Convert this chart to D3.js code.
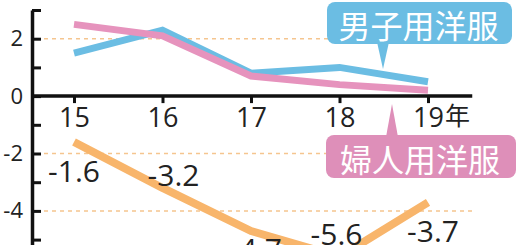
<!DOCTYPE html>
<html>
<head>
<meta charset="utf-8">
<script src="https://cdn.jsdelivr.net/npm/d3@7"></script>
<style>
  html, body { margin:0; padding:0; background:#fff; }
  svg { display:block; font-family:"Open Sans", "Noto Sans", sans-serif; }
</style>
</head>
<body>
<svg id="chart"></svg>
<script>
// data
var years = [15, 16, 17, 18, 19];
var menValues = [1.5, 2.3, 0.8, 1.0, 0.5];      // 男子用洋服
var womenValues = [2.5, 2.1, 0.7, 0.4, 0.2];    // 婦人用洋服
var totalValues = [-1.6, -3.2, -4.7, -5.6, -3.7];
var totalLabels = ["-1.6", "-3.2", "-4.7", "-5.6", "-3.7"];
var yTicks = [3, 2, 1, 0, -1, -2, -3, -4, -5];
var yTickLabels = [2, 0, -2, -4];
var gridValues = [2, -2, -4];
var seriesNames = ["男子用洋服", "婦人用洋服"];
var yearUnit = "年";

var screen = {width:520, height:245};
var colors = {men:"#6bbde3", women:"#e693bd", total:"#f8b56b",
              menBox:"#6bbde3", womenBox:"#de8fb9", grid:"#f5c58f"};
var jpFont = "'Noto Sans CJK JP', 'Noto Sans', sans-serif";

var svg = d3.select("#chart")
    .attr("width", screen.width)
    .attr("height", screen.height);

var axisX = 32;   // where the vertical axis sits

var xScale = d3.scaleLinear()
    .domain([15, 19])
    .range([74, 428]);

var yScale = d3.scaleLinear()
    .domain([3, -5.5])
    .range([10, 10 + 8.5 * 28.7]);

// dashed guide lines
svg.append("g")
    .selectAll("line")
    .data(gridValues)
    .enter()
    .append("line")
    .attr("x1", axisX + 12)
    .attr("x2", xScale(19.5))
    .attr("y1", function(d){ return yScale(d); })
    .attr("y2", function(d){ return yScale(d); })
    .attr("stroke", colors.grid)
    .attr("stroke-width", 1.5)
    .attr("stroke-dasharray", "4,4");

// y axis (ticks point inward)
var yAxis = d3.axisLeft(yScale)
    .tickValues(yTicks)
    .tickSize(-9)
    .tickSizeOuter(0)
    .tickPadding(9)
    .tickFormat(function(d){ return yTickLabels.indexOf(d) >= 0 ? String(d) : ""; });

var yg = svg.append("g")
    .attr("transform", "translate(" + axisX + ",0)")
    .call(yAxis);
yg.select(".domain").attr("stroke", "#111").attr("stroke-width", 3.5);
yg.selectAll(".tick line").attr("stroke", "#111").attr("stroke-width", 3);
yg.selectAll(".tick text")
    .attr("fill", "#222")
    .style("font-size", "22px")
    .style("font-family", "'Open Sans', sans-serif");

// x axis at zero
var xAxis = d3.axisBottom(xScale)
    .tickValues(years)
    .tickSize(7)
    .tickSizeOuter(0)
    .tickPadding(5)
    .tickFormat(d3.format("d"));

var xg = svg.append("g")
    .attr("transform", "translate(0," + yScale(0) + ")")
    .call(xAxis);
xg.select(".domain").remove();
xg.append("line")
    .attr("x1", axisX)
    .attr("x2", xScale(19.5))
    .attr("stroke", "#111")
    .attr("stroke-width", 3.5);
xg.selectAll(".tick line").attr("stroke", "#111").attr("stroke-width", 3);
xg.selectAll(".tick text")
    .attr("fill", "#222")
    .style("font-size", "27px")
    .style("font-family", "'Open Sans', sans-serif");

svg.append("text")
    .attr("x", xScale(19) + 17)
    .attr("y", yScale(0) + 29)
    .attr("fill", "#222")
    .style("font-size", "25px")
    .style("font-family", jpFont)
    .text(yearUnit);

// lines
var drawLine = function(values, color, width, join)
{
    var line = d3.line()
        .x(function(d, i){ return xScale(years[i]); })
        .y(function(d){ return yScale(d); });
    svg.append("path")
        .datum(values)
        .attr("d", line)
        .attr("fill", "none")
        .attr("stroke", color)
        .attr("stroke-width", width)
        .attr("stroke-linejoin", join);
}

drawLine(totalValues, colors.total, 8, "round");
drawLine(menValues, colors.men, 7, "miter");
drawLine(womenValues, colors.women, 7, "miter");

// value labels on the orange line
var labelShift = [[0, 40], [11, -2], [5, 29], [-3, -12], [5, 40]];
svg.append("g")
    .selectAll("text")
    .data(totalValues)
    .enter()
    .append("text")
    .attr("x", function(d, i){ return xScale(years[i]) + labelShift[i][0]; })
    .attr("y", function(d, i){ return yScale(d) + labelShift[i][1]; })
    .attr("text-anchor", "middle")
    .attr("fill", "#222")
    .style("font-size", "30px")
    .text(function(d, i){ return totalLabels[i]; });

// callout boxes
var callout = function(name, fill, box, tipX, tipY)
{
    var g = svg.append("g");
    var baseY = tipY < box.y ? box.y + 2 : box.y + box.h - 2;
    g.append("path")
        .attr("d", "M" + (tipX - 6) + "," + baseY + "L" + tipX + "," + tipY +
                   "L" + (tipX + 6) + "," + baseY + "Z")
        .attr("fill", fill);
    g.append("rect")
        .attr("x", box.x).attr("y", box.y)
        .attr("width", box.w).attr("height", box.h)
        .attr("rx", 8).attr("ry", 8)
        .attr("fill", fill);
    g.append("text")
        .attr("x", box.x + box.w / 2 - 1)
        .attr("y", box.y + box.h / 2 + 1)
        .attr("text-anchor", "middle")
        .attr("dominant-baseline", "central")
        .attr("fill", "#fff")
        .style("font-size", "32px")
        .style("font-family", jpFont)
        .text(name);
}

callout(seriesNames[0], colors.menBox, {x:327, y:2, w:185, h:42}, 383, 69);
callout(seriesNames[1], colors.womenBox, {x:326, y:135, w:190, h:43}, 392, 104);
</script>
</body>
</html>
